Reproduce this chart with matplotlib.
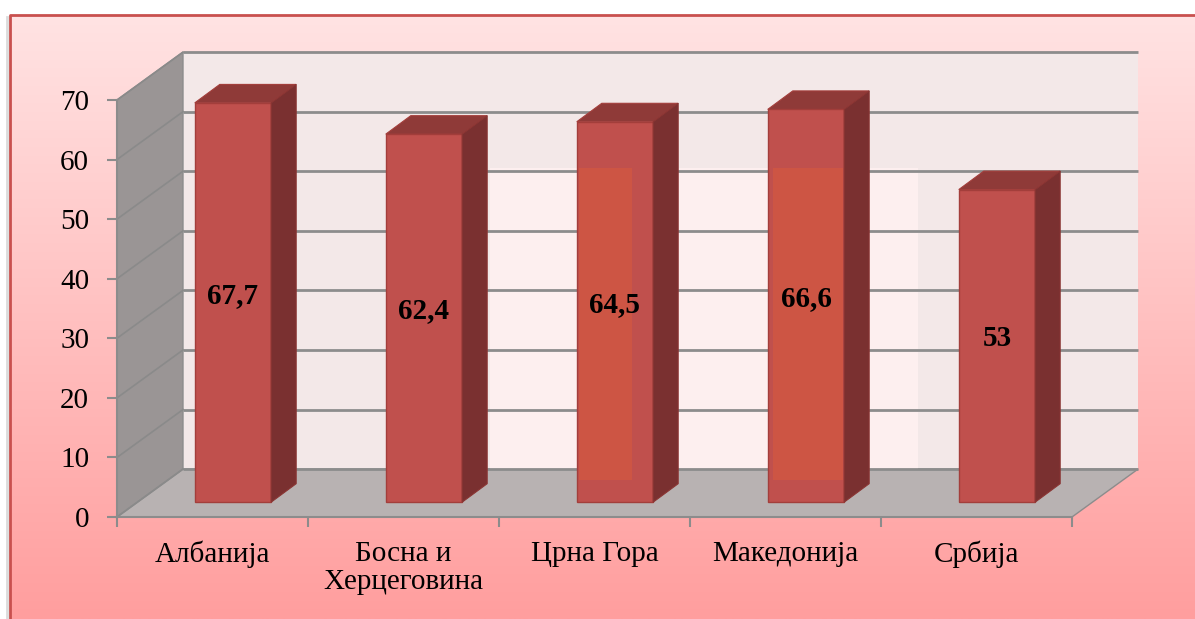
import numpy as np
import matplotlib.pyplot as plt
from matplotlib.patches import Polygon, Rectangle

plt.rcParams['font.family'] = ['Liberation Serif', 'DejaVu Serif']

countries = ["Албанија", "Босна и\nХерцеговина", "Црна Гора", "Македонија", "Србија"]
values = [67.7, 62.4, 64.5, 66.6, 53]
labels = ["67,7", "62,4", "64,5", "66,6", "53"]
yticks = [0, 10, 20, 30, 40, 50, 60, 70]

# pseudo 3d geometry (data units)
DX, DY = 0.3455, 8.04      # depth of the chart box
F = 0.31                   # bars sit this far into the box
W = 0.40                   # bar width
BX, BY = 0.131, 3.1        # bar depth
S = 0.99                   # bar plane is slightly further away
FS = 21

fig = plt.figure(figsize=(11.95, 6.19), dpi=100)

# background with gradient and border
bg = fig.add_axes([0, 0, 1, 1])
bg.set_xlim(0, 1195)
bg.set_ylim(619, 0)
bg.axis('off')
top = np.array([255, 227, 227]) / 255
bot = np.array([255, 158, 158]) / 255
t = np.linspace(0, 1, 300)[:, None, None]
grad = top * (1 - t) + bot * t
grad = np.repeat(grad, 2, axis=1)
bg.imshow(grad, extent=(10, 1195, 619, 15), aspect='auto', zorder=0)
bg.plot([7.5, 7.5], [17, 619], color='#999999', lw=2, alpha=0.35, zorder=1)
bg.plot([10, 10, 1195], [619, 15, 15], color='#C9504E', lw=2, zorder=2)

ax = fig.add_axes([117 / 1195, 102 / 619, 955 / 1195, 417 / 619])
ax.set_xlim(-0.5, 4.5)
ax.set_ylim(0, 70)
ax.patch.set_visible(False)
for s in ['top', 'right']:
    ax.spines[s].set_visible(False)
for s in ['left', 'bottom']:
    ax.spines[s].set_color('#8C8C8C')
    ax.spines[s].set_linewidth(1.5)

x0w, x1w = -0.5, 4.5
# walls and floor
ax.add_patch(Polygon([(x0w + DX, DY), (x1w + DX, DY), (x1w + DX, 70 + DY), (x0w + DX, 70 + DY)],
                     closed=True, fc='#F3E8E8', ec='none', clip_on=False, zorder=1))
ax.add_patch(Polygon([(x0w, 0), (x0w, 70), (x0w + DX, 70 + DY), (x0w + DX, DY)],
                     closed=True, fc='#9A9595', ec='#8C8C8C', lw=1, clip_on=False, zorder=1))
ax.add_patch(Polygon([(x0w, 0), (x1w, 0), (x1w + DX, DY), (x0w + DX, DY)],
                     closed=True, fc='#B8B2B2', ec='#8C8C8C', lw=1, clip_on=False, zorder=1))

# lighter panel on the back wall
PX0, PX1, PY0, PY1 = 1.453, 3.694, 6.2, 58.6
tint_spans = [(PX0, 2.196), (2.935, PX1)]
ax.add_patch(Rectangle((PX0, DY), PX1 - PX0, PY1 - DY, fc='#FDEFEF', ec='none',
                       clip_on=False, zorder=1.5))

for v in yticks:
    ax.plot([x0w + DX, x1w + DX], [v + DY, v + DY], color='#8C8C8C', lw=2,
            clip_on=False, zorder=2, solid_capstyle='butt')
    ax.plot([x0w, x0w + DX], [v, v + DY], color='#8A8A8A', lw=1.2, clip_on=False, zorder=2)

# bars
for i, (v, lab) in enumerate(zip(values, labels)):
    h = v * S
    bx = i - W / 2 + F * DX
    by = F * DY
    ax.add_patch(Rectangle((bx, by), W, h, fc='#C0504D', ec='#A33E3B', lw=1,
                           clip_on=False, zorder=3))
    ax.add_patch(Polygon([(bx, by + h), (bx + W, by + h), (bx + W + BX, by + h + BY), (bx + BX, by + h + BY)],
                         closed=True, fc='#8F3A38', ec='#A33E3B', lw=0.8, clip_on=False, zorder=3))
    ax.add_patch(Polygon([(bx + W, by), (bx + W + BX, by + BY), (bx + W + BX, by + h + BY), (bx + W, by + h)],
                         closed=True, fc='#7A3030', ec='#8A3533', lw=0.8, clip_on=False, zorder=3))
    # tint where the panel crosses the bar
    for s0, s1 in tint_spans:
        lo, hi = max(bx + 0.01, s0), min(bx + W - 0.005, s1)
        if hi > lo:
            ax.add_patch(Rectangle((lo, PY0), hi - lo, min(by + h, PY1) - PY0, fc='#CD5544',
                                   ec='none', clip_on=False, zorder=3.5))
    ax.text(bx + W / 2, by + h / 2 + 1.2, lab, ha='center', va='center', fontsize=FS,
            fontweight='bold', color='black', zorder=4)

ax.set_yticks(yticks)
ax.set_yticklabels([str(v) for v in yticks], fontsize=FS)
ax.tick_params(axis='y', length=7, width=1.5, color='#8C8C8C', pad=13)
ax.set_xticks(np.arange(-0.5, 5, 1))
ax.set_xticklabels([])
ax.tick_params(axis='x', which='major', length=7, width=1.5, color='#8C8C8C')
ax.set_xticks(range(len(countries)), countries, minor=True)
ax.tick_params(axis='x', which='minor', length=0, pad=17, labelsize=FS)
for tl in ax.get_xticklabels(minor=True):
    tl.set_linespacing(1.13)

fig.savefig('out.png', dpi=100)
